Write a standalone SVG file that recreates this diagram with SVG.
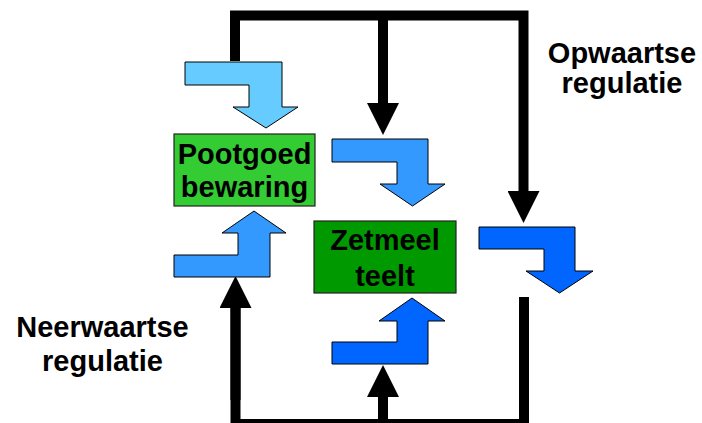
<svg xmlns="http://www.w3.org/2000/svg" width="702" height="423" viewBox="0 0 702 423">
<style>
  .lbl{font-family:"Liberation Sans",Arial,sans-serif;font-weight:bold;font-size:29px;fill:#000;text-anchor:middle}
  .flow{stroke:#000;stroke-width:1;stroke-linejoin:miter}
  .conn{fill:none;stroke:#000;stroke-width:10;stroke-linejoin:miter}
  .box{stroke:#222;stroke-width:1.2}
</style>
<defs>
  <marker id="ah" markerUnits="userSpaceOnUse" viewBox="0 0 32 32" refX="0" refY="16" markerWidth="32" markerHeight="32" orient="auto">
    <path d="M0,0 L32,16 L0,32 z" fill="#000"/>
  </marker>
</defs>
<rect width="702" height="423" fill="#fff"/>

<g id="connectors">
  <path class="conn" d="M235,61 V15.5 H523.5 V191" marker-end="url(#ah)"/>
  <path class="conn" d="M383,15.5 V103" marker-end="url(#ah)"/>
  <path class="conn" d="M235.5,308 V424 H524 V297"/>
  <path class="conn" d="M235.5,400 V308" marker-end="url(#ah)"/>
  <path class="conn" d="M383,424 V397" marker-end="url(#ah)"/>
</g>

<g id="flow-arrows">
  <polygon id="arrow-in-pootgoed" class="flow" fill="#66CCFF" points="185,62 282,62 282,107 298,107 266,128 233,107 249,107 249,85 185,85"/>
  <polygon id="arrow-out-pootgoed" class="flow" fill="#3399FF" points="332,139 428,139 428,184 445,184 412.5,206 380,184 397,184 397,162 332,162"/>
  <polygon id="arrow-up-pootgoed" class="flow" fill="#3399FF" points="174,277 174,255 238,255 238,233 222,233 254,211 286,233 270,233 270,277"/>
  <polygon id="arrow-up-zetmeel" class="flow" fill="#0066FF" points="332,364 332,342 397,342 397,321 379,321 412,298 445,321 428,321 428,364"/>
  <polygon id="arrow-out-zetmeel" class="flow" fill="#0066FF" points="479,227 575,227 575,271 593,271 559.5,293 526,271 544,271 544,249 479,249"/>
</g>

<g id="pootgoed">
  <rect class="box" x="174" y="134" width="141" height="72" fill="#33CC33"/>
  <text class="lbl" x="244.5" y="164">Pootgoed</text>
  <text class="lbl" x="244.5" y="197">bewaring</text>
</g>

<g id="zetmeel">
  <rect class="box" x="314" y="221" width="142" height="72" fill="#009900"/>
  <text class="lbl" x="385" y="250">Zetmeel</text>
  <text class="lbl" x="385" y="286">teelt</text>
</g>

<g id="opwaartse">
  <text class="lbl" x="622" y="63">Opwaartse</text>
  <text class="lbl" x="622" y="93">regulatie</text>
</g>

<g id="neerwaartse">
  <text class="lbl" x="102.5" y="337">Neerwaartse</text>
  <text class="lbl" x="102.5" y="371">regulatie</text>
</g>
</svg>
